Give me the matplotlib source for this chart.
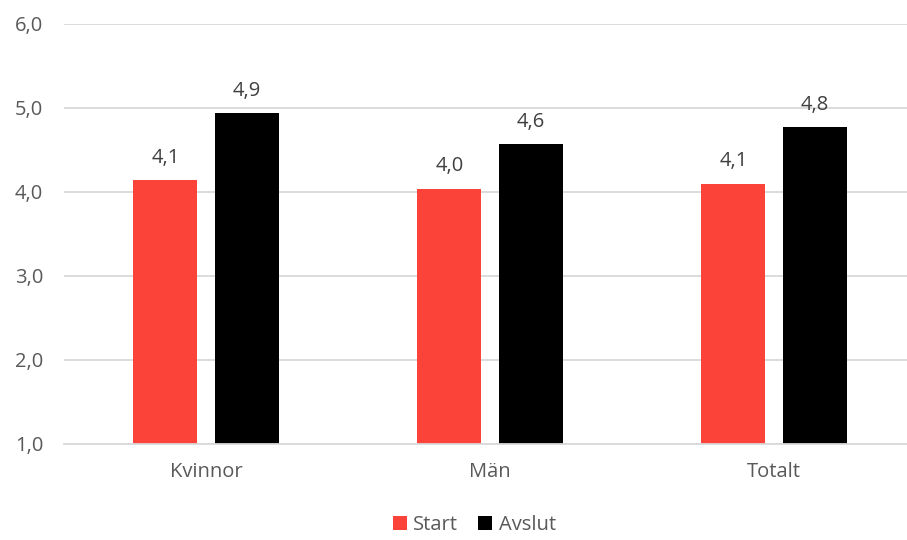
import numpy as np
import matplotlib.pyplot as plt

categories = ["Kvinnor", "Män", "Totalt"]
start = [4.14, 4.04, 4.10]
avslut = [4.94, 4.57, 4.77]
series_names = ["Start", "Avslut"]
colors = ["#FC433A", "#000000"]
yticks = [1.0, 2.0, 3.0, 4.0, 5.0, 6.0]

plt.rcParams["font.family"] = ["Open Sans", "DejaVu Sans"]
fs = 14.5

fig = plt.figure(figsize=(9.07, 5.40), dpi=100)
ax = fig.add_axes([64 / 907, 1 - 444 / 540, 843 / 907, 420 / 540])

x = np.arange(len(categories))
width = 0.225
offset = 0.143

for vals, name, color, sign in [(start, series_names[0], colors[0], -1),
                                (avslut, series_names[1], colors[1], 1)]:
    bars = ax.bar(x + sign * offset, np.array(vals) - 1.0, width, bottom=1.0,
                  color=color, label=name, zorder=3)
    for b, v in zip(bars, vals):
        ax.annotate(f"{v:.1f}".replace(".", ","),
                    (b.get_x() + b.get_width() / 2, v),
                    xytext=(0, 9), textcoords="offset points",
                    ha="center", va="bottom", fontsize=fs, color="#404040")

ax.set_xlim(-0.5, -0.5 + 843 / 284)
ax.set_ylim(1.0, 6.0)
ax.set_yticks(yticks)
ax.set_yticklabels([f"{t:.1f}".replace(".", ",") for t in yticks])
ax.set_xticks(x)
ax.set_xticklabels(categories)
ax.tick_params(axis="both", length=0, labelsize=fs, labelcolor="#595959")
ax.tick_params(axis="y", pad=15)
ax.tick_params(axis="x", pad=13)
ax.yaxis.grid(True, color="#D9D9D9", linewidth=1.3, zorder=0)
for side in ["top", "right", "left"]:
    ax.spines[side].set_visible(False)
ax.spines["bottom"].set_color("#D9D9D9")
ax.spines["bottom"].set_linewidth(1.3)
ax.spines["bottom"].set_zorder(4)

fig.legend(loc="center", bbox_to_anchor=(0.523, 1 - 525 / 540), ncol=2,
           frameon=False, fontsize=fs, handlelength=0.7, handleheight=0.7,
           handletextpad=0.3, columnspacing=1.0, labelcolor="#595959")

fig.savefig("out.png", dpi=100)
